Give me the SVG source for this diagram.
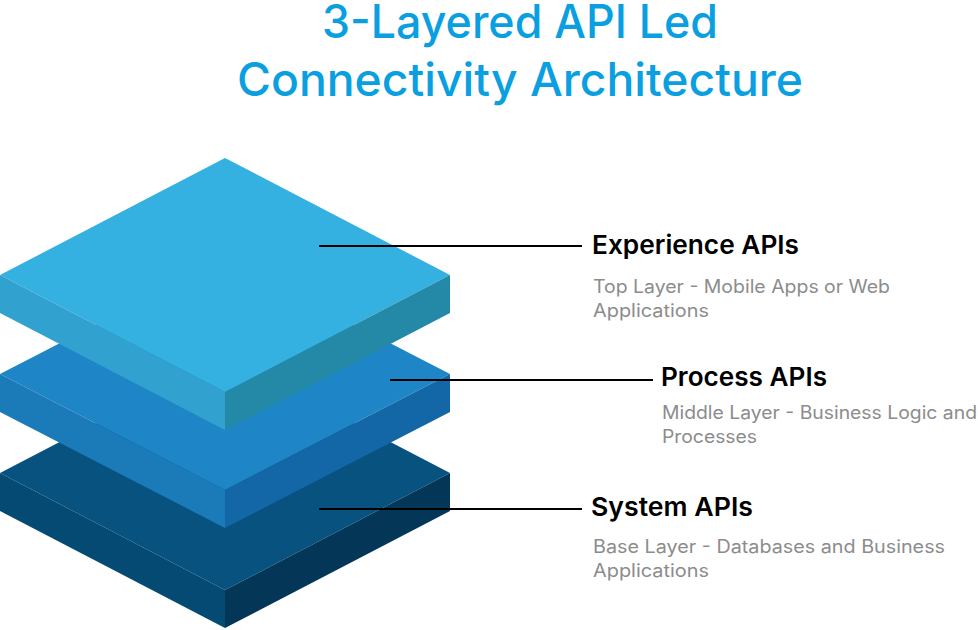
<svg xmlns="http://www.w3.org/2000/svg" width="978" height="630" viewBox="0 0 978 630">
  <style>
    .title { font-family: "Inter", "Noto Sans", "Liberation Sans", sans-serif; font-size: 46px; font-weight: 500; fill: #0A9FE0; text-anchor: middle; }
    .head { font-family: "Inter", "Noto Sans", "Liberation Sans", sans-serif; font-size: 26px; font-weight: 600; fill: #000000; }
    .sub { font-family: "Inter", "Noto Sans", "Liberation Sans", sans-serif; font-size: 18px; font-weight: 400; fill: #8C8C8C; }
    .conn { stroke: #000000; stroke-width: 2; fill: none; }
  </style>
  <rect width="978" height="630" fill="#FFFFFF"/>

  <g id="title">
    <text class="title" x="520" y="38" textLength="396" lengthAdjust="spacingAndGlyphs">3-Layered API Led</text>
    <text class="title" x="520" y="96" textLength="566" lengthAdjust="spacingAndGlyphs">Connectivity Architecture</text>
  </g>

  <g id="system-layer">
    <path d="M225,356 L450,473 L225,590 L0,473 Z" fill="#07527F"/>
    <path d="M0,473 L225,590 L225,628 L0,511 Z" fill="#054A72"/>
    <path d="M225,590 L450,473 L450,511 L225,628 Z" fill="#033657"/>
  </g>

  <g id="process-layer">
    <path d="M225,258 L450,374 L225,490 L0,374 Z" fill="#1E86C7"/>
    <path d="M0,374 L225,490 L225,528 L0,412 Z" fill="#1B7AB8"/>
    <path d="M225,490 L450,374 L450,412 L225,528 Z" fill="#1467A6"/>
  </g>

  <g id="experience-layer">
    <path d="M225,158 L450,275 L225,392 L0,275 Z" fill="#34B0E1"/>
    <path d="M0,275 L225,392 L225,430 L0,313 Z" fill="#31A2D0"/>
    <path d="M225,392 L450,275 L450,313 L225,430 Z" fill="#2489A6"/>
  </g>

  <g id="connectors">
    <line class="conn" x1="319" y1="246" x2="582" y2="246"/>
    <line class="conn" x1="390" y1="380" x2="653" y2="380"/>
    <line class="conn" x1="319" y1="509" x2="582" y2="509"/>
  </g>

  <g id="experience-label">
    <text class="head" x="592" y="254" textLength="207" lengthAdjust="spacingAndGlyphs">Experience APIs</text>
    <text class="sub" x="593" y="293" textLength="297" lengthAdjust="spacingAndGlyphs">Top Layer - Mobile Apps or Web</text>
    <text class="sub" x="593" y="317" textLength="116" lengthAdjust="spacingAndGlyphs">Applications</text>
  </g>

  <g id="process-label">
    <text class="head" x="661" y="386" textLength="166" lengthAdjust="spacingAndGlyphs">Process APIs</text>
    <text class="sub" x="662" y="419" textLength="315" lengthAdjust="spacingAndGlyphs">Middle Layer - Business Logic and</text>
    <text class="sub" x="662" y="443" textLength="95" lengthAdjust="spacingAndGlyphs">Processes</text>
  </g>

  <g id="system-label">
    <text class="head" x="591" y="516" textLength="162" lengthAdjust="spacingAndGlyphs">System APIs</text>
    <text class="sub" x="593" y="553" textLength="352" lengthAdjust="spacingAndGlyphs">Base Layer - Databases and Business</text>
    <text class="sub" x="593" y="577" textLength="116" lengthAdjust="spacingAndGlyphs">Applications</text>
  </g>
</svg>
